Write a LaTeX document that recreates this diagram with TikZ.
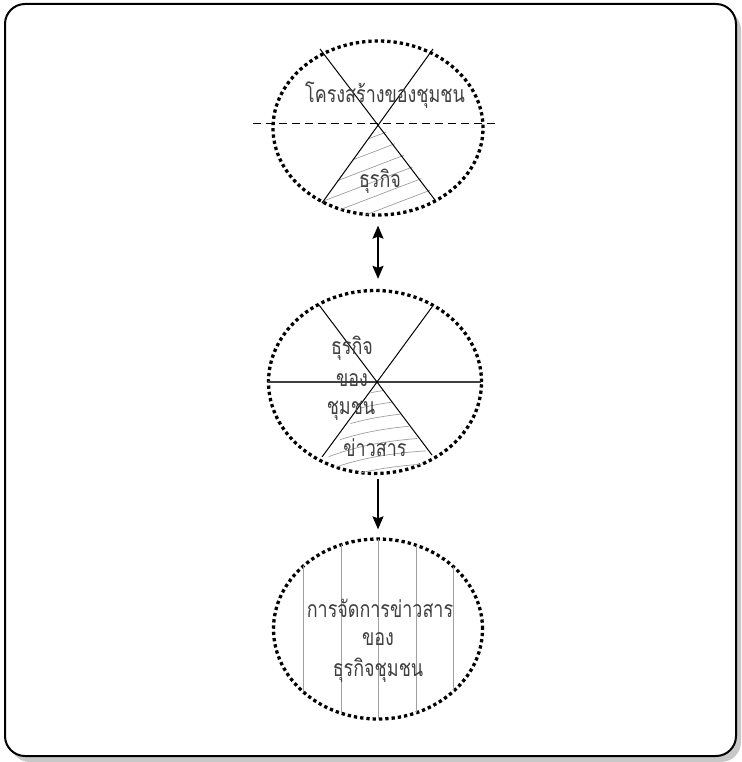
\documentclass[tikz,border=0pt]{standalone}
\usepackage{fontspec}
\newfontfamily\thai[Script=Thai]{Loma}
\usetikzlibrary{shapes.geometric,arrows.meta}
\definecolor{txt}{HTML}{404040}
\definecolor{shadowgray}{HTML}{C8C8C8}
\definecolor{hatch}{HTML}{A0A0A0}
\newcommand{\thtxt}[1]{\scalebox{0.78}[1]{\thai\fontsize{23}{26}\selectfont #1}}
\tikzset{
  oval/.style={ellipse, draw=black, line width=3.3pt, dash pattern=on 3.3pt off 3pt, inner sep=0pt},
  lbl/.style={text=txt, inner sep=0pt},
  divider/.style={black, line width=1pt},
  hatchline/.style={hatch, line width=0.7pt},
  conn/.style={line width=1.6pt, black}
}
\begin{document}
\begin{tikzpicture}[x=1pt,y=-1pt]
\useasboundingbox (0,0) rectangle (741,762);
% frame with shadow
\fill[shadowgray, rounded corners=20pt] (10,10) rectangle (741,762);
\draw[line width=2pt, fill=white, rounded corners=20pt] (5,4) rectangle (736,756);

% ===== ellipse 1 =====
\node[oval, minimum width=210pt, minimum height=174pt] (e1) at (378,128) {};
\coordinate (c1) at (380,124);
\begin{scope}
  \clip (378,128) ellipse [x radius=105, y radius=87];
  \clip (c1) -- (300,230) -- (460,230) -- cycle;
  \foreach \k in {0,...,10} {
    \draw[hatchline] (300,{150+15*\k}) -- (470,{150+15*\k-65});
  }
\end{scope}
\draw[divider, dashed, dash pattern=on 8pt off 5pt] (253,124) -- (497,124);
\draw[divider] (320,49) -- (435,200);
\draw[divider] (433,49) -- (322,203);
\node[lbl] (t1) at (385,95) {\thtxt{โครงสร้างของชุมชน}};
\node[lbl] (t2) at (380,181) {\thtxt{ธุรกิจ}};

% ===== ellipse 2 =====
\node[oval, minimum width=213pt, minimum height=183pt] (e2) at (375,382) {};
\coordinate (c2) at (378,382);
\begin{scope}
  \clip (375,382) ellipse [x radius=106.5, y radius=91.5];
  \clip (c2) -- (300,500) -- (460,500) -- cycle;
  \foreach \k in {0,...,9} {
    \draw[hatchline] (320,{408+13*\k}) .. controls (350,{396+13*\k}) and (380,{388+13*\k}) .. (440,{385+13*\k});
  }
\end{scope}
\draw[divider, line width=1.2pt, black!75] (268,382) -- (481,382);
\draw[divider] (319,305) -- (432,455);
\draw[divider] (432,307) -- (322,457);
\node[lbl] (t3) at (352,348) {\thtxt{ธุรกิจ}};
\node[lbl] (t4) at (352,380) {\thtxt{ของ}};
\node[lbl] (t5) at (351,411) {\thtxt{ชุมชน}};
\node[lbl] (t6) at (375,448) {\thtxt{ข่าวสาร}};

% ===== ellipse 3 =====
\node[oval, minimum width=209pt, minimum height=180pt] (e3) at (378,629) {};
\begin{scope}
  \clip (378,629) ellipse [x radius=104.5, y radius=90];
  \foreach \xx in {303,341,378,416,453} {
    \draw[hatchline] (\xx,530) -- (\xx,730);
  }
\end{scope}
\node[lbl] (t7) at (380,608) {\thtxt{การจัดการข่าวสาร}};
\node[lbl] (t8) at (378,639) {\thtxt{ของ}};
\node[lbl] (t9) at (378,670) {\thtxt{ธุรกิจชุมชน}};

% ===== connectors =====
\draw[conn, {Stealth[length=13pt,width=11pt,inset=2pt]}-{Stealth[length=13pt,width=11pt,inset=2pt]}] ([yshift=-9pt]e1.south) -- ([yshift=10pt]e2.north -| e1.south);
\draw[conn, -{Stealth[length=13pt,width=11pt,inset=2pt]}] ([yshift=-4pt]e2.south -| e3.north) -- ([yshift=8pt]e3.north);
\end{tikzpicture}
\end{document}
